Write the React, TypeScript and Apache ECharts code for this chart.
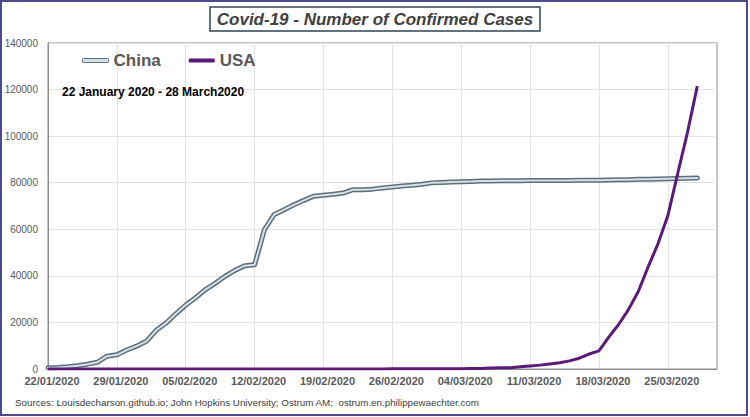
import React, { useEffect, useRef } from "react";
import * as echarts from "echarts";

// Date axis: 22/01/2020 .. 30/03/2020 (axis runs two days past the last data point)
const START = { y: 2020, m: 0, d: 22 };
const AXIS_DAYS = 69;

const china = [
  548, 643, 920, 1406, 2075, 2877, 5509, 6087, 8141, 9802,
  11891, 16630, 19716, 23707, 27440, 30587, 34110, 36814, 39829, 42354,
  44386, 44759, 59895, 66358, 68413, 70513, 72434, 74211, 74619, 75077,
  75550, 77001, 77022, 77241, 77754, 78166, 78600, 78928, 79356, 79932,
  80136, 80261, 80386, 80537, 80690, 80770, 80823, 80860, 80887, 80921,
  80932, 80945, 80977, 81003, 81033, 81058, 81102, 81156, 81250, 81305,
  81435, 81498, 81591, 81661, 81782, 81897, 81999,
];

const usa = [
  1, 1, 2, 2, 5, 5, 5, 5, 5, 7,
  8, 8, 11, 11, 11, 11, 11, 11, 11, 11,
  12, 12, 13, 13, 13, 13, 13, 13, 13, 13,
  15, 15, 15, 51, 51, 57, 58, 60, 68, 74,
  98, 118, 149, 217, 262, 402, 518, 583, 959, 1281,
  1663, 2179, 2727, 3499, 4632, 6421, 7783, 13677, 19100, 25489,
  33276, 43847, 53740, 65778, 83836, 101657, 121478,
];

const yTicks = [0, 20000, 40000, 60000, 80000, 100000, 120000, 140000];

function buildDates(): string[] {
  const out: string[] = [];
  for (let i = 0; i < AXIS_DAYS; i++) {
    const dt = new Date(Date.UTC(START.y, START.m, START.d + i));
    const dd = String(dt.getUTCDate()).padStart(2, "0");
    const mm = String(dt.getUTCMonth() + 1).padStart(2, "0");
    out.push(`${dd}/${mm}/${dt.getUTCFullYear()}`);
  }
  return out;
}

const dates = buildDates();

const FONT = "Liberation Sans, Arial, sans-serif";

export default function App() {
  const ref = useRef<HTMLDivElement>(null);

  useEffect(() => {
    if (!ref.current) return;
    const chart = echarts.init(ref.current, undefined, { renderer: "svg" });
    chart.setOption({
      animation: false,
      backgroundColor: "#ffffff",
      textStyle: { fontFamily: FONT },
      grid: {
        left: 48,
        right: 33,
        top: 43,
        bottom: 48,
        show: true,
        borderColor: "#8c8c8c",
        borderWidth: 1,
      },
      legend: {
        left: 77,
        top: 47,
        itemWidth: 26,
        itemHeight: 4,
        itemGap: 28,
        textStyle: { fontFamily: FONT, fontSize: 17, fontWeight: "bold", color: "#595959" },
        data: [
          {
            name: "China",
            icon: "roundRect",
            itemStyle: { color: "#d6e0e8", borderColor: "#5d6e7b", borderWidth: 1 },
          },
          { name: "USA", icon: "roundRect", itemStyle: { color: "#5c1a78" } },
        ],
      },
      xAxis: {
        type: "category",
        data: dates,
        boundaryGap: false,
        axisLine: { show: true, lineStyle: { color: "#8c8c8c" } },
        axisTick: { show: false },
        axisLabel: {
          interval: 6,
          margin: 6,
          fontSize: 11,
          fontWeight: "bold",
          color: "#595959",
          fontFamily: FONT,
          padding: [0, 0, 0, 8],
        },
        splitLine: { show: true, interval: 6, lineStyle: { color: "#e3e3e3", width: 1 } },
      },
      yAxis: {
        type: "value",
        min: yTicks[0],
        max: yTicks[yTicks.length - 1],
        interval: 20000,
        axisLine: { show: true, lineStyle: { color: "#8c8c8c" } },
        axisTick: { show: false },
        axisLabel: {
          margin: 10,
          fontSize: 10,
          color: "#595959",
          fontFamily: FONT,
          formatter: (v: number) => String(v),
        },
        splitLine: { show: true, lineStyle: { color: "#e3e3e3", width: 1 } },
      },
      series: [
        {
          name: "China",
          type: "line",
          data: china,
          symbol: "none",
          lineStyle: { color: "#5d6e7b", width: 5, cap: "round", join: "round" },
          itemStyle: { color: "#5d6e7b" },
          z: 2,
        },
        {
          name: "China-inner",
          type: "line",
          data: china,
          symbol: "none",
          lineStyle: { color: "#d6e0e8", width: 2, cap: "round", join: "round" },
          z: 3,
        },
        {
          name: "USA",
          type: "line",
          data: usa,
          symbol: "none",
          lineStyle: { color: "#5c1a78", width: 3, join: "round" },
          itemStyle: { color: "#5c1a78" },
          z: 4,
        },
      ],
      graphic: [
        {
          type: "rect",
          shape: { x: 1, y: 1, width: 746, height: 414 },
          style: { fill: "none", stroke: "#4a4a8c", lineWidth: 2 },
          silent: true,
        },
        {
          type: "rect",
          shape: { x: 210, y: 7, width: 330, height: 24 },
          style: { fill: "#ffffff", stroke: "#2f4454", lineWidth: 1.5 },
          z: 10,
        },
        {
          type: "text",
          x: 375,
          y: 19,
          style: {
            text: "Covid-19 - Number of Confirmed Cases",
            fontFamily: FONT,
            fontSize: 17,
            fontWeight: "bold",
            fontStyle: "italic",
            fill: "#404040",
            align: "center",
            verticalAlign: "middle",
          },
          z: 11,
        },
        {
          type: "text",
          x: 62,
          y: 92,
          style: {
            text: "22 January 2020 - 28 March2020",
            fontFamily: FONT,
            fontSize: 12,
            fontWeight: "bold",
            fill: "#000000",
            align: "left",
            verticalAlign: "middle",
          },
          z: 11,
        },
        {
          type: "text",
          x: 15,
          y: 402,
          style: {
            text: "Sources: Louisdecharson.github.io; John Hopkins University; Ostrum AM;  ostrum.en.philippewaechter.com",
            fontFamily: FONT,
            fontSize: 9.8,
            fill: "#404040",
            align: "left",
            verticalAlign: "middle",
          },
          z: 11,
        },
      ],
    });
    return () => chart.dispose();
  }, []);

  return (
    <div
      ref={ref}
      style={{ position: "fixed", left: 0, top: 0, width: 750, height: 417, background: "#fff" }}
    />
  );
}
